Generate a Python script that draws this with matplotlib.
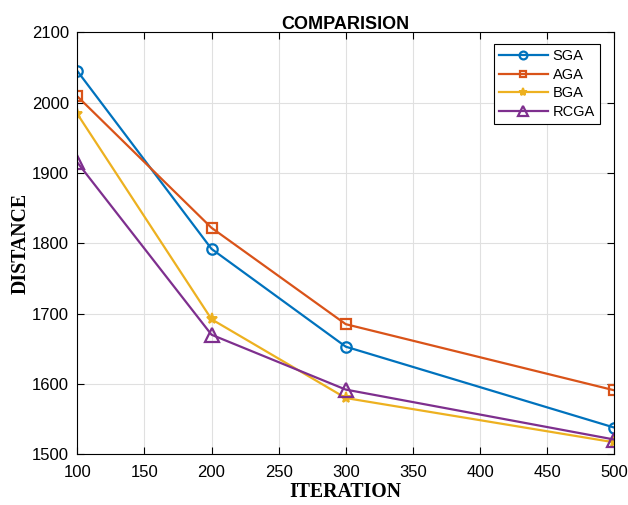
import matplotlib
matplotlib.use("Agg")
import matplotlib.pyplot as plt

iterations = [100, 200, 300, 500]
sga = [2045, 1792, 1653, 1538]
aga = [2009, 1822, 1685, 1591]
bga = [1984, 1692, 1580, 1517]
rcga = [1915, 1670, 1592, 1521]

x_ticks = [100, 150, 200, 250, 300, 350, 400, 450, 500]
y_ticks = [1500, 1600, 1700, 1800, 1900, 2000, 2100]

fig = plt.figure(figsize=(6.28, 5.05), dpi=100)
ax = fig.add_axes([0.1231, 0.1004, 0.855, 0.8356])

lw = 1.6
ax.plot(iterations, sga, color='#0072BD', marker='o', markersize=7.5, markerfacecolor='none', markeredgewidth=1.6, lw=lw, label='SGA')
ax.plot(iterations, aga, color='#D95319', marker='s', markersize=6.5, markerfacecolor='none', markeredgewidth=1.6, lw=lw, label='AGA')
ax.plot(iterations, bga, color='#EDB120', marker='*', markersize=8, markeredgewidth=1.4, lw=lw, label='BGA')
ax.plot(iterations, rcga, color='#7E2F8E', marker='^', markersize=9.5, markerfacecolor='none', markeredgewidth=1.6, lw=lw, label='RCGA')

ax.set_xlim(100, 500)
ax.set_ylim(1500, 2100)
ax.set_xticks(x_ticks)
ax.set_yticks(y_ticks)
ax.grid(True, color='#e0e0e0', lw=0.8)
ax.set_axisbelow(True)
ax.tick_params(direction='in', top=True, right=True, labelsize=12, length=5, width=0.8)
ax.tick_params(axis='x', pad=7.5)
ax.tick_params(axis='y', pad=6)
for lab in ax.get_xticklabels() + ax.get_yticklabels():
    lab.set_family('Liberation Sans')
for s in ax.spines.values():
    s.set_linewidth(0.8)

ax.set_title('COMPARISION', fontsize=13, fontweight='bold', family='Liberation Sans', pad=2.5)
ax.set_xlabel('ITERATION', fontsize=14.3, fontweight='bold', family='Liberation Serif', labelpad=2)
ax.set_ylabel('DISTANCE', fontsize=14.3, fontweight='bold', family='Liberation Serif', labelpad=0.5)

leg = ax.legend(loc='upper right', bbox_to_anchor=(0.9734, 0.9723), prop={'family': 'Liberation Sans', 'size': 10.5},
                fancybox=False, edgecolor='black', framealpha=1, borderaxespad=0, handlelength=3.3,
                labelspacing=0.32, handletextpad=0.35, borderpad=0.35)
leg.get_frame().set_linewidth(0.8)
for h in leg.legend_handles:
    h.set_markersize(h.get_markersize() * 0.75)

fig.savefig('out.png', dpi=100)
